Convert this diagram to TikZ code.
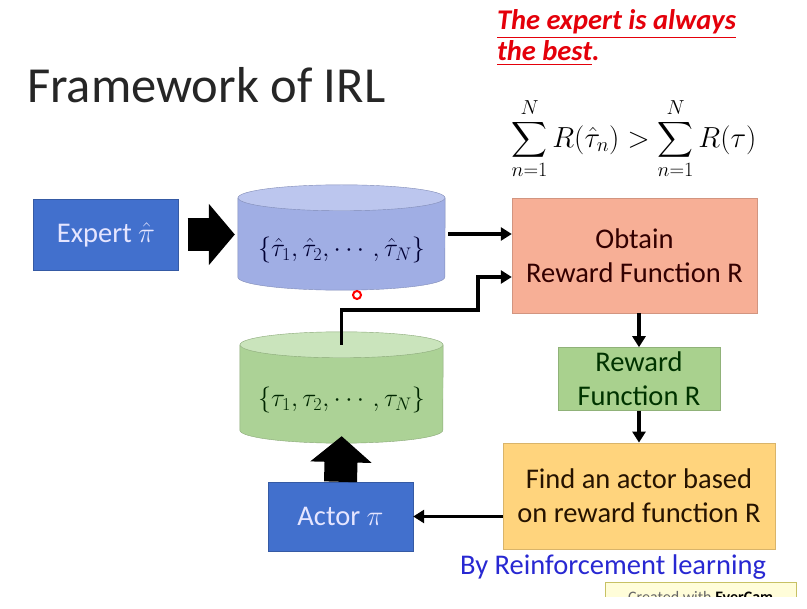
\documentclass[tikz,border=0pt]{standalone}
\usepackage{fix-cm}
\usepackage{amsmath}
\usepackage{fontspec}
\setmainfont{Carlito}
\usetikzlibrary{arrows.meta,positioning,backgrounds}

\definecolor{boxblue}{RGB}{66,112,205}
\definecolor{cylblue}{RGB}{160,174,228}
\definecolor{cylbluetop}{RGB}{188,198,238}
\definecolor{cylgreen}{RGB}{172,210,150}
\definecolor{cylgreentop}{RGB}{202,228,188}
\definecolor{obtainfill}{RGB}{247,175,150}
\definecolor{rewardfill}{RGB}{169,209,142}
\definecolor{findfill}{RGB}{255,212,125}
\definecolor{notered}{RGB}{228,0,10}
\definecolor{rlblue}{RGB}{40,40,210}

% drum drawn behind a node: node, body colour, top colour, x radius
\newcommand\drum[4]{%
  \begin{pgfonlayer}{background}
    \draw[#2!80!black,fill=#2] ([yshift=13pt]#1.north west)
      -- ([yshift=13pt]#1.south west)
      arc[start angle=180,end angle=360,x radius=#4,y radius=13pt]
      -- ([yshift=13pt]#1.north east) -- cycle;
    \draw[#2!80!black,fill=#3] ([yshift=13pt]#1.north)
      ellipse[x radius=#4,y radius=13pt];
  \end{pgfonlayer}}

\begin{document}
\begin{tikzpicture}[x=1pt,y=-1pt,inner sep=1mm,
  box/.style={rectangle,draw=#1!85!black,fill=#1,align=center,
    font=\fontsize{28.5}{34}\selectfont},
  agent/.style={rectangle,draw=boxblue!80!black,fill=boxblue,
    text=white!90!blue,font=\fontsize{28.5}{34}\selectfont},
  store/.style={rectangle,font=\fontsize{26}{30}\selectfont},
  conn/.style={line width=3.5pt,-{Triangle[length=11pt,width=13pt]}},
  bigarrow/.style={line width=33pt,-{Triangle[length=26pt,width=60pt]}}]
  \useasboundingbox (0,0) rectangle (807,609);

  % title and remarks
  \node[anchor=base west,font=\fontsize{50.5}{58}\selectfont,text=black!85]
    (title) at (24,103) {Framework of IRL};
  \node[anchor=base west,align=left,text=notered,
    font=\fontsize{28.5}{31}\selectfont\bfseries\itshape]
    (note) at (494,61) {\underline{The expert is always}\\\underline{the best}.};
  \node[font=\fontsize{29}{32}\selectfont] (ineq) at (634,139)
    {$\displaystyle\sum_{n=1}^{N}R(\hat{\tau}_n)>\sum_{n=1}^{N}R(\tau)$};

  % the blocks
  \node[agent,minimum width=145pt,minimum height=71pt] (expert) at (106,234.5)
    {Expert $\hat{\pi}$};
  \node[store,text=blue!20!black,minimum width=207pt,minimum height=79pt]
    (experttraj) at (341.5,250.5)
    {$\{\hat{\tau}_1,\hat{\tau}_2,\cdots,\hat{\tau}_N\}$};
  \drum{experttraj}{cylblue}{cylbluetop}{103.5pt}
  \node[store,text=green!15!black,minimum width=203pt,minimum height=85pt]
    (actortraj) at (341.5,400.5)
    {$\{\tau_1,\tau_2,\cdots,\tau_N\}$};
  \drum{actortraj}{cylgreen}{cylgreentop}{101.5pt}
  \node[box=obtainfill,text=black!80!red,minimum width=245pt,
    minimum height=115pt] (obtain) at (634.5,255.5)
    {Obtain\\Reward Function R};
  \node[box=rewardfill,text=black!80!green,minimum width=162pt,
    minimum height=63pt] (reward) [below=34pt of obtain,xshift=4.5pt]
    {Reward\\Function R};
  \node[box=findfill,text=black!85!orange,minimum width=272pt,
    minimum height=106pt] (find) [below=32pt of reward]
    {Find an actor based\\on reward function R};
  \node[agent,minimum width=145pt,minimum height=69pt] (actor) at (340.5,516.5)
    {Actor $\pi$};
  \node[anchor=base east,text=rlblue,font=\fontsize{28.5}{33}\selectfont]
    (rl) at (769,575) {By Reinforcement learning};

  % laser pointer and recorder mark
  \node[circle,draw=red,fill=white,line width=2pt,minimum size=8pt,
    inner sep=0pt] (pointer) at (357,295) {};
  \begin{scope}
    \clip (600,578) rectangle (800,597);
    \node[rectangle,draw=olive!50,fill=yellow!15,anchor=north west,
      minimum width=191pt,minimum height=30pt,inner sep=2pt,
      font=\fontsize{16}{18}\selectfont,text=black!60]
      (evercam) at (605,582) {Created with \textbf{\textcolor{black}{EverCam}}};
  \end{scope}

  % connections
  \coordinate (in1) at ([yshift=21.5pt]obtain.west);
  \coordinate (in2) at ([yshift=-21.5pt]obtain.west);
  \coordinate (bend) at (478,310);
  \draw[bigarrow,shorten <=9pt,shorten >=3pt]
    (expert.east) -- (expert.east -| experttraj.west);
  \draw[conn,shorten <=3pt] (experttraj.east |- in1) -- (in1);
  \draw[conn] ([yshift=13pt]actortraj.north) |- (bend) |- (in2);
  \draw[conn] (obtain.south -| reward.north) -- (reward.north);
  \draw[conn] (reward) -- (find);
  \draw[conn] (find.west |- actor.east) -- (actor.east);
  \draw[bigarrow,shorten >=-7pt] (actor.north) -- (actortraj.south);
\end{tikzpicture}
\end{document}
